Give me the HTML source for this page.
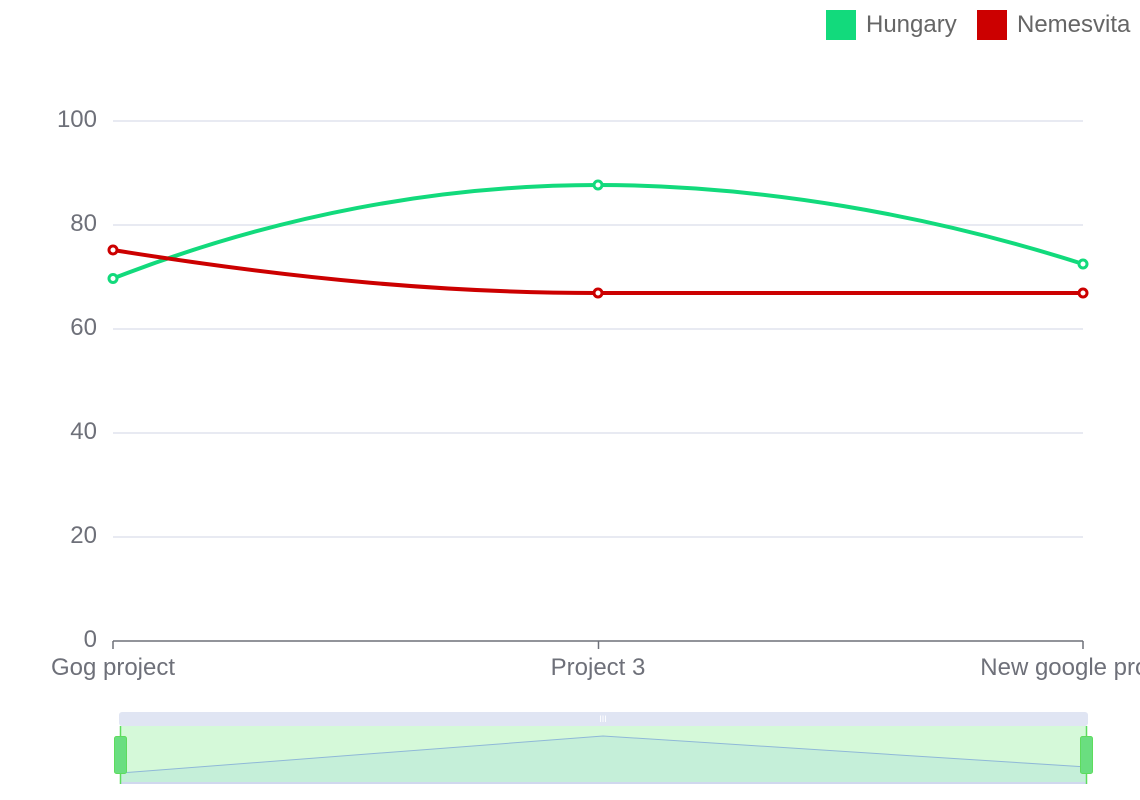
<!DOCTYPE html>
<html><head><style>body{margin:0;background:#fff}svg{display:block}text{font-family:"Liberation Sans",sans-serif}</style></head><body>
<svg width="1140" height="800" xmlns="http://www.w3.org/2000/svg">
<rect x="826" y="10" width="30" height="30" fill="#12da7c"/>
<text x="866" y="32" font-size="24" fill="#666">Hungary</text>
<rect x="977" y="10" width="30" height="30" fill="#cc0000"/>
<text x="1017" y="32" font-size="24" fill="#666">Nemesvita</text>
<g stroke="#e0e3ee" stroke-width="1.5">
<line x1="113" y1="121" x2="1083" y2="121"/><line x1="113" y1="225" x2="1083" y2="225"/>
<line x1="113" y1="329" x2="1083" y2="329"/><line x1="113" y1="433" x2="1083" y2="433"/>
<line x1="113" y1="537" x2="1083" y2="537"/></g>
<g font-size="24" fill="#6e7079" text-anchor="end">
<text x="97" y="127">100</text><text x="97" y="231">80</text><text x="97" y="335">60</text>
<text x="97" y="439">40</text><text x="97" y="543">20</text><text x="97" y="647">0</text></g>
<g stroke="#6e7079" stroke-width="1.5"><line x1="113" y1="641" x2="1083" y2="641"/>
<line x1="113" y1="641" x2="113" y2="649"/><line x1="598.5" y1="641" x2="598.5" y2="649"/><line x1="1083" y1="641" x2="1083" y2="649"/></g>
<g font-size="24" fill="#6e7079" text-anchor="middle">
<text x="113" y="675">Gog project</text><text x="598" y="675">Project 3</text><text x="1083" y="675">New google project</text></g>
<path d="M113,278.5 C276,215 440,185 598,185 C760,185 930,215 1083,264" fill="none" stroke="#12da7c" stroke-width="4"/>
<path d="M113,250 C300,280 450,293 598,293 L1083,293" fill="none" stroke="#cc0000" stroke-width="4"/>
<g fill="#fff" stroke="#12da7c" stroke-width="3"><circle cx="113" cy="278.5" r="4"/><circle cx="598" cy="185" r="4"/><circle cx="1083" cy="264" r="4"/></g>
<g fill="#fff" stroke="#cc0000" stroke-width="3"><circle cx="113" cy="250" r="4"/><circle cx="598" cy="293" r="4"/><circle cx="1083" cy="293" r="4"/></g>
<rect x="119" y="712" width="969" height="14" rx="3" fill="#e0e5f3"/>
<text x="603" y="722" font-size="9" fill="#fff" text-anchor="middle">III</text>
<rect x="120" y="726" width="967" height="58" fill="#d5f9d9"/>
<path d="M120,773 L603,736 L1087,767 L1087,784 L120,784Z" fill="#c5efd9" stroke="none"/>
<path d="M120,773 L603,736 L1087,767" fill="none" stroke="#8fb8d8" stroke-width="1"/>
<line x1="120" y1="783" x2="1087" y2="783" stroke="#d0d8ee" stroke-width="2"/>
<line x1="120.5" y1="726" x2="120.5" y2="784" stroke="#5ddc5d" stroke-width="1.5"/>
<line x1="1086.5" y1="726" x2="1086.5" y2="784" stroke="#5ddc5d" stroke-width="1.5"/>
<rect x="114.5" y="736.5" width="12" height="37" rx="2" fill="#6ade80" stroke="#5ddc5d"/>
<rect x="1080.5" y="736.5" width="12" height="37" rx="2" fill="#6ade80" stroke="#5ddc5d"/>
</svg></body></html>
